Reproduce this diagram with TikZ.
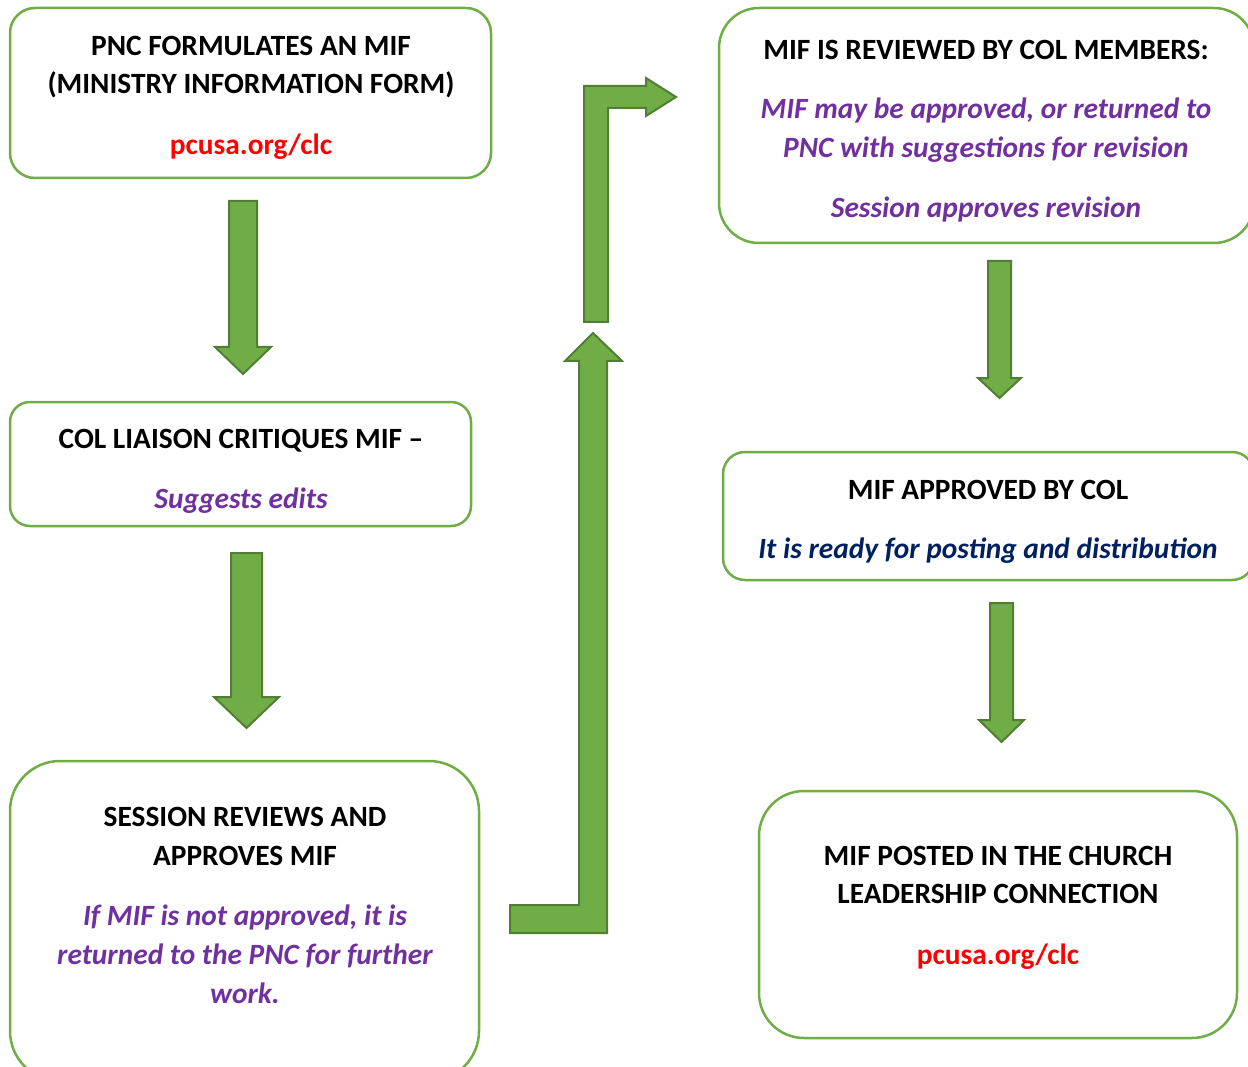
\documentclass[tikz,border=0pt]{standalone}
\usepackage{fontspec}
\setmainfont{Carlito}
\definecolor{boxgreen}{HTML}{70AD47}
\definecolor{arrowfill}{HTML}{70AD47}
\definecolor{arrowline}{HTML}{507E32}
\definecolor{mifpurple}{HTML}{7030A0}
\definecolor{mifblue}{HTML}{002060}
\definecolor{mifred}{HTML}{FF0000}
\begin{document}
\begin{tikzpicture}[x=1pt,y=-1pt,
  stepbox/.style={draw=boxgreen,line width=2.5pt,fill=white,inner sep=0pt},
  blockarrow/.style={fill=arrowfill,draw=arrowline,line width=2pt,line join=miter},
  head/.style={anchor=base,font=\bfseries\fontsize{29.4}{38}\selectfont,text=black,inner sep=0pt},
  note/.style={anchor=base,font=\bfseries\itshape\fontsize{29.4}{38}\selectfont,text=mifpurple,inner sep=0pt},
  bluenote/.style={note,text=mifblue},
  link/.style={anchor=base,font=\bfseries\fontsize{29.4}{38}\selectfont,text=mifred,inner sep=0pt}]
\useasboundingbox (0,0) rectangle (1248,1067);
\clip (0,0) rectangle (1248,1067);
% boxes
\node[stepbox,rounded corners=25pt,minimum width=481pt,minimum height=170pt] (b1) at (250.5,93) {};
\node[stepbox,rounded corners=20pt,minimum width=461pt,minimum height=124pt] (b2) at (240.5,464) {};
\node[stepbox,rounded corners=50pt,minimum width=469pt,minimum height=320pt] (b3) at (244.5,921) {};
\node[stepbox,rounded corners=40pt,minimum width=535pt,minimum height=235pt] (b4) at (986.5,125.5) {};
\node[stepbox,rounded corners=22pt,minimum width=531pt,minimum height=128pt] (b5) at (988.5,516) {};
\node[stepbox,rounded corners=45pt,minimum width=478pt,minimum height=247pt] (b6) at (998,914.5) {};
% block arrows
\draw[blockarrow] (229,201) -- (257,201) -- (257,347) -- (271,347) -- (243,374) -- (215,347) -- (229,347) -- cycle;
\draw[blockarrow] (231,553) -- (262,553) -- (262,697) -- (279,697) -- (246.5,728) -- (214,697) -- (231,697) -- cycle;
\draw[blockarrow] (988,261) -- (1011,261) -- (1011,378) -- (1021,378) -- (999.5,398) -- (978,378) -- (988,378) -- cycle;
\draw[blockarrow] (990,603) -- (1013,603) -- (1013,720) -- (1024,720) -- (1001.5,742) -- (979,720) -- (990,720) -- cycle;
\draw[blockarrow] (510,905) -- (579,905) -- (579,361) -- (565,361) -- (593,333) -- (622,361) -- (607,361) -- (607,933) -- (510,933) -- cycle;
\draw[blockarrow] (584,322) -- (584,86) -- (646,86) -- (646,78) -- (676,97) -- (646,116) -- (646,108) -- (608,108) -- (608,322) -- cycle;
% texts
\node[head] (t1a) at (251,56) {PNC FORMULATES AN MIF};
\node[head] (t1b) at (251,94) {(MINISTRY INFORMATION FORM)};
\node[link] (t1c) at (251,155) {pcusa.org/clc};
\node[head] (t2a) at (241,448) {COL LIAISON CRITIQUES MIF –};
\node[note] (t2b) at (241,508) {Suggests edits};
\node[head] (t3a) at (245,826) {SESSION REVIEWS AND};
\node[head] (t3b) at (245,865) {APPROVES MIF};
\node[note] (t3c) at (245,925) {If MIF is not approved, it is};
\node[note] (t3d) at (245,964) {returned to the PNC for further};
\node[note] (t3e) at (245,1003) {work.};
\node[head] (t4a) at (986,60) {MIF IS REVIEWED BY COL MEMBERS:};
\node[note] (t4b) at (986,119) {MIF may be approved, or returned to};
\node[note] (t4c) at (986,158) {PNC with suggestions for revision};
\node[note] (t4d) at (986,218) {Session approves revision};
\node[head] (t5a) at (988,499) {MIF APPROVED BY COL};
\node[bluenote] (t5b) at (988,558) {It is ready for posting and distribution};
\node[head] (t6a) at (998,865) {MIF POSTED IN THE CHURCH};
\node[head] (t6b) at (998,903) {LEADERSHIP CONNECTION};
\node[link] (t6c) at (998,964) {pcusa.org/clc};
\end{tikzpicture}
\end{document}
